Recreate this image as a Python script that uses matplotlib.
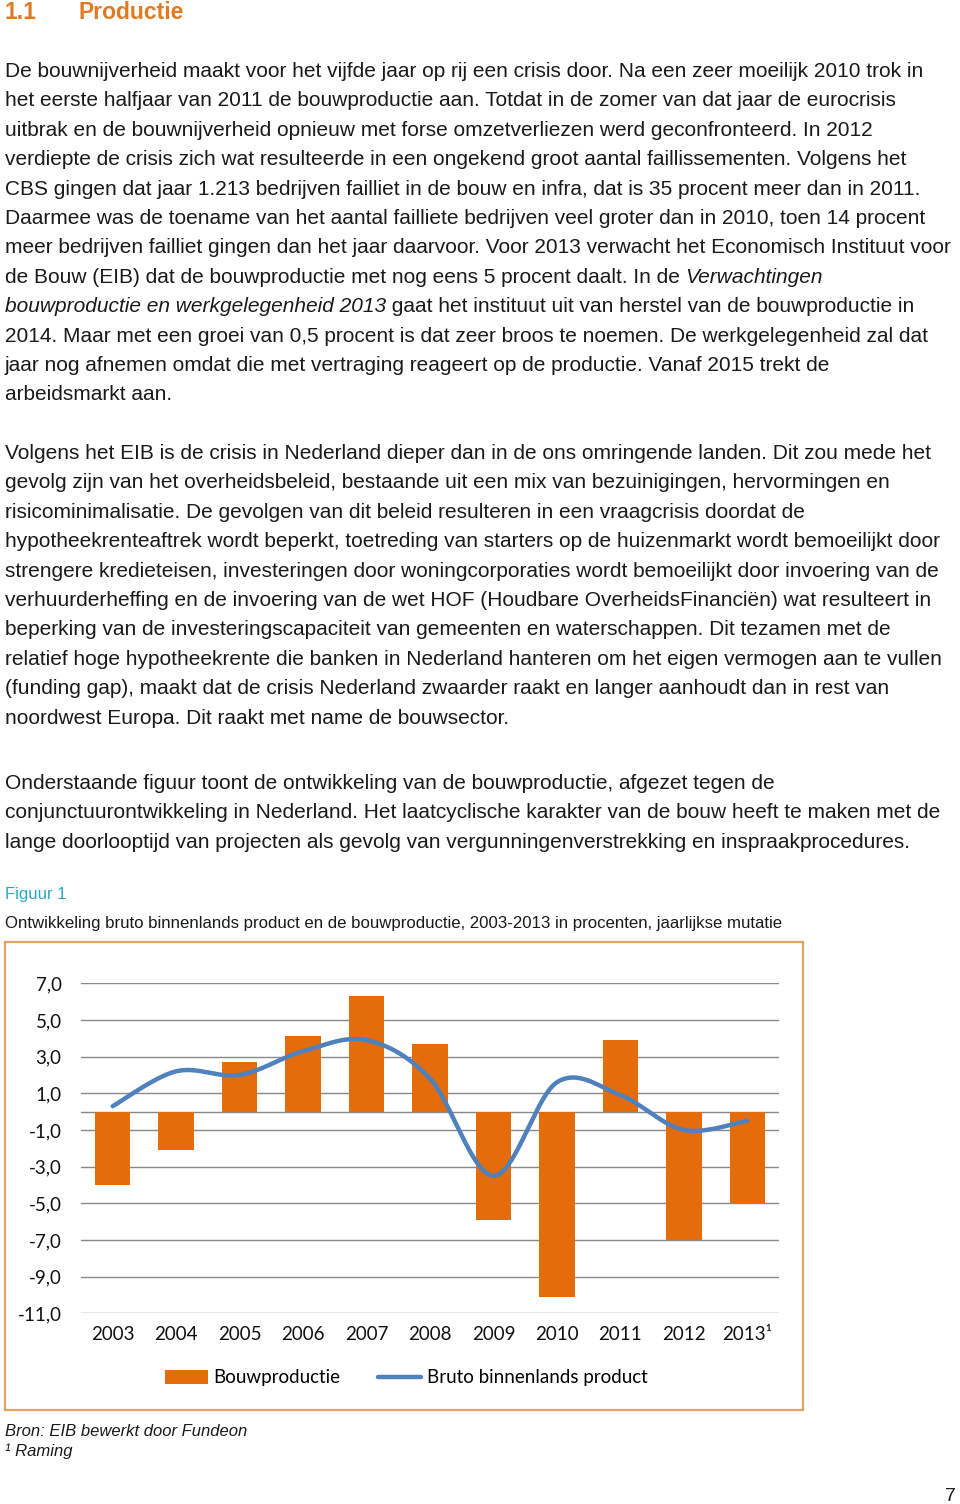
import numpy as np
import matplotlib.pyplot as plt
from matplotlib.patches import Rectangle

# chart data
years = ['2003', '2004', '2005', '2006', '2007', '2008', '2009', '2010', '2011', '2012', '2013¹']
bouwproductie = [-4.0, -2.1, 2.7, 4.1, 6.3, 3.7, -5.9, -10.1, 3.9, -7.0, -5.0]
bbp = [0.3, 2.2, 2.0, 3.3, 3.9, 1.8, -3.5, 1.6, 0.9, -1.0, -0.5]
yticks = [7, 5, 3, 1, -1, -3, -5, -7, -9, -11]

heading_nr = '1.1'
heading = 'Productie'
para1 = [
    [('De bouwnijverheid maakt voor het vijfde jaar op rij een crisis door. Na een zeer moeilijk 2010 trok in', 'normal')],
    [('het eerste halfjaar van 2011 de bouwproductie aan. Totdat in de zomer van dat jaar de eurocrisis', 'normal')],
    [('uitbrak en de bouwnijverheid opnieuw met forse omzetverliezen werd geconfronteerd. In 2012', 'normal')],
    [('verdiepte de crisis zich wat resulteerde in een ongekend groot aantal faillissementen. Volgens het', 'normal')],
    [('CBS gingen dat jaar 1.213 bedrijven failliet in de bouw en infra, dat is 35 procent meer dan in 2011.', 'normal')],
    [('Daarmee was de toename van het aantal failliete bedrijven veel groter dan in 2010, toen 14 procent', 'normal')],
    [('meer bedrijven failliet gingen dan het jaar daarvoor. Voor 2013 verwacht het Economisch Instituut voor', 'normal')],
    [('de Bouw (EIB) dat de bouwproductie met nog eens 5 procent daalt. In de ', 'normal'), ('Verwachtingen', 'italic')],
    [('bouwproductie en werkgelegenheid 2013', 'italic'), (' gaat het instituut uit van herstel van de bouwproductie in', 'normal')],
    [('2014. Maar met een groei van 0,5 procent is dat zeer broos te noemen. De werkgelegenheid zal dat', 'normal')],
    [('jaar nog afnemen omdat die met vertraging reageert op de productie. Vanaf 2015 trekt de', 'normal')],
    [('arbeidsmarkt aan.', 'normal')],
]
para2 = [
    'Volgens het EIB is de crisis in Nederland dieper dan in de ons omringende landen. Dit zou mede het',
    'gevolg zijn van het overheidsbeleid, bestaande uit een mix van bezuinigingen, hervormingen en',
    'risicominimalisatie. De gevolgen van dit beleid resulteren in een vraagcrisis doordat de',
    'hypotheekrenteaftrek wordt beperkt, toetreding van starters op de huizenmarkt wordt bemoeilijkt door',
    'strengere kredieteisen, investeringen door woningcorporaties wordt bemoeilijkt door invoering van de',
    'verhuurderheffing en de invoering van de wet HOF (Houdbare OverheidsFinanciën) wat resulteert in',
    'beperking van de investeringscapaciteit van gemeenten en waterschappen. Dit tezamen met de',
    'relatief hoge hypotheekrente die banken in Nederland hanteren om het eigen vermogen aan te vullen',
    '(funding gap), maakt dat de crisis Nederland zwaarder raakt en langer aanhoudt dan in rest van',
    'noordwest Europa. Dit raakt met name de bouwsector.',
]
para3 = [
    'Onderstaande figuur toont de ontwikkeling van de bouwproductie, afgezet tegen de',
    'conjunctuurontwikkeling in Nederland. Het laatcyclische karakter van de bouw heeft te maken met de',
    'lange doorlooptijd van projecten als gevolg van vergunningenverstrekking en inspraakprocedures.',
]
fig_label = 'Figuur 1'
fig_caption = 'Ontwikkeling bruto binnenlands product en de bouwproductie, 2003-2013 in procenten, jaarlijkse mutatie'
bron = 'Bron: EIB bewerkt door Fundeon'
noot = '¹ Raming'
page_nr = '7'

W, H = 960, 1504
fig = plt.figure(figsize=(W / 100, H / 100), dpi=100)
renderer = fig.canvas.get_renderer()

body_font = 'Liberation Sans'
body_size = 15.0
txt_col = '#1a1a1a'


def fy(y):
    return 1 - y / H


def put_line(segments, x, y):
    # draws a line piece by piece so italic parts can sit in the middle
    for s, style in segments:
        t = fig.text(x / W, fy(y), s, fontsize=body_size, family=body_font,
                     style=style, color=txt_col, va='baseline', ha='left')
        bb = t.get_window_extent(renderer)
        x = bb.x1


# heading
fig.text(5 / W, fy(19), heading_nr, fontsize=16.5, family=body_font, weight='bold',
         color='#E07B22', va='baseline')
fig.text(79 / W, fy(19), heading, fontsize=16.5, family=body_font, weight='bold',
         color='#E07B22', va='baseline')

step = 29.4
for i, segs in enumerate(para1):
    put_line(segs, 5, 77 + i * step)
for i, line in enumerate(para2):
    put_line([(line, 'normal')], 5, 459 + i * step)
for i, line in enumerate(para3):
    put_line([(line, 'normal')], 5, 789 + i * step)

fig.text(5 / W, fy(899), fig_label, fontsize=12, family=body_font,
         color='#2AA8C8', va='baseline')
fig.text(5 / W, fy(928), fig_caption, fontsize=12.1, family=body_font,
         color=txt_col, va='baseline')

fig.text(5 / W, fy(1436), bron, fontsize=12, family=body_font, style='italic',
         color=txt_col, va='baseline')
fig.text(5 / W, fy(1456), noot, fontsize=12, family=body_font, style='italic',
         color=txt_col, va='baseline')
fig.text(950 / W, fy(1501), page_nr, fontsize=14, family=body_font, color=txt_col,
         va='baseline', ha='center')

# chart frame
fig.patches.append(Rectangle((5 / W, fy(1410)), 798 / W, 468 / H, transform=fig.transFigure,
                             fill=False, edgecolor='#E2A466', linewidth=1.6))

# chart
ax = fig.add_axes([81 / W, fy(1313.3), 698 / W, 330 / H])
x = np.arange(len(years))
bars = ax.bar(x, bouwproductie, width=0.56, color='#E46C0A', zorder=3, label='Bouwproductie')


def excel_smooth(xs, ys, n=40):
    # bezier smoothing like excel's "smoothed line"
    px = np.concatenate([[xs[0]], xs, [xs[-1]]])
    py = np.concatenate([[ys[0]], ys, [ys[-1]]])
    ox, oy = [], []
    t = np.linspace(0, 1, n)
    for i in range(1, len(px) - 2):
        p0 = np.array([px[i], py[i]])
        p3 = np.array([px[i + 1], py[i + 1]])
        c1 = p0 + (np.array([px[i + 1], py[i + 1]]) - np.array([px[i - 1], py[i - 1]])) / 6
        c2 = p3 - (np.array([px[i + 2], py[i + 2]]) - p0) / 6
        b = ((1 - t) ** 3)[:, None] * p0 + (3 * (1 - t) ** 2 * t)[:, None] * c1 \
            + (3 * (1 - t) * t ** 2)[:, None] * c2 + (t ** 3)[:, None] * p3
        ox.extend(b[:, 0])
        oy.extend(b[:, 1])
    return np.array(ox), np.array(oy)


sx, sy = excel_smooth(x.astype(float), np.array(bbp))
line, = ax.plot(sx, sy, color='#4F81BD', linewidth=3.2, zorder=4, solid_capstyle='round',
                label='Bruto binnenlands product')

ax.set_xlim(-0.5, len(years) - 0.5)
ax.set_ylim(-11, 7)
ax.set_yticks(yticks)
ax.set_yticklabels([f'{v:.1f}'.replace('.', ',') for v in yticks])
ax.set_xticks(x)
ax.set_xticklabels(years)
for v in yticks + [0]:
    ax.axhline(v, color='#898989', linewidth=1.0, zorder=1)
for s in ax.spines.values():
    s.set_visible(False)
ax.tick_params(axis='both', length=0, labelsize=13.5, colors='#111111')
ax.tick_params(axis='y', pad=14)
ax.tick_params(axis='x', pad=9)
for lab in ax.get_xticklabels() + ax.get_yticklabels():
    lab.set_family('Lato')

leg = fig.legend([bars, line], ['Bouwproductie', 'Bruto binnenlands product'],
                 loc='center', bbox_to_anchor=(406 / W, fy(1378)), ncol=2, frameon=False,
                 prop={'family': 'Lato', 'size': 13.5}, handlelength=2.3, handletextpad=0.3,
                 columnspacing=2.0)

fig.savefig('out.png', dpi=100)
